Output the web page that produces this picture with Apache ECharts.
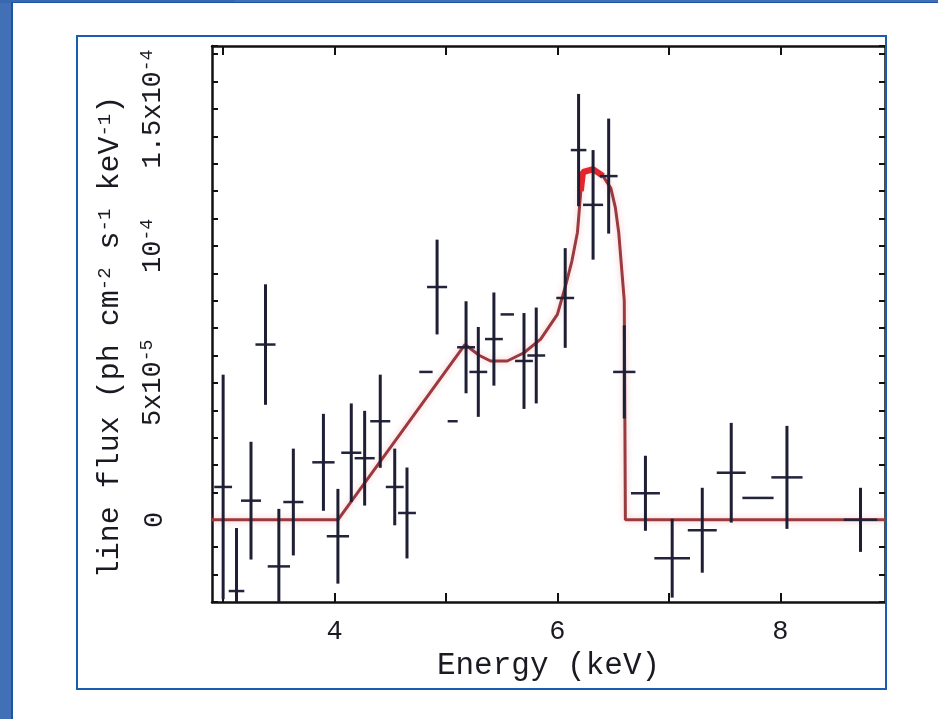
<!DOCTYPE html>
<html>
<head>
<meta charset="utf-8">
<script src="https://cdn.jsdelivr.net/npm/echarts@6/dist/echarts.min.js"></script>
<style>
  html, body { margin: 0; padding: 0; background: #fff; }
  .page { position: relative; width: 938px; height: 719px; overflow: hidden; background: #fff; }
  .strip-left { position: absolute; left: 0; top: 0; width: 11px; height: 719px; background: #4270b6; }
  .strip-top { position: absolute; left: 0; top: 0; width: 938px; height: 2px; background: #4270b6; }
  .strip-top-dark { position: absolute; left: 0; top: 0; width: 235px; height: 3px; background: #3a68b0; }
  .line-left { position: absolute; left: 11px; top: 2px; width: 2px; height: 717px; background: #1d55a6; }
  .line-top { position: absolute; left: 11px; top: 2px; width: 927px; height: 1px; background: #1d55a6; }
  .box { position: absolute; left: 76px; top: 35px; width: 807px; height: 651px; border: 2px solid #1a5cb0; pointer-events: none; z-index: 2; }
  #chart { position: absolute; left: 0; top: 0; width: 938px; height: 719px; z-index: 1; }
</style>
</head>
<body>
<div class="page">
  <div class="strip-left"></div>
  <div class="strip-top"></div>
  <div class="strip-top-dark"></div>
  <div class="line-left"></div>
  <div class="line-top"></div>
  <div id="chart"></div>
  <div class="box"></div>
</div>
<script>
// 数据点：能量 (keV)、线流量 (单位 1e-5 ph cm^-2 s^-1 keV^-1) 及误差
const energy = [3.0, 3.12, 3.25, 3.38, 3.5, 3.63, 3.9, 4.03, 4.15, 4.27, 4.41, 4.54, 4.65, 4.82, 4.92, 5.06, 5.18, 5.29, 5.43, 5.55, 5.7, 5.81, 6.07, 6.19, 6.32, 6.46, 6.6, 6.79, 7.03, 7.3, 7.56, 7.8, 8.06, 8.72]
const flux = [1.2, -2.6, 0.7, 6.4, -1.7, 0.65, 2.1, -0.6, 2.45, 2.25, 3.6, 1.2, 0.25, 5.4, 8.5, 3.6, 6.3, 5.4, 6.6, 7.5, 5.8, 6.0, 8.1, 13.5, 11.5, 12.55, 5.4, 0.97, -1.4, -0.38, 1.72, 0.8, 1.55, 0]
const fluxErr = [4.1, 2.3, 2.15, 2.2, 2.1, 1.95, 1.77, 1.73, 1.8, 1.73, 1.7, 1.4, 1.66, 0, 1.73, 0, 1.68, 1.64, 1.7, 0, 1.75, 1.75, 1.82, 2.05, 2.0, 2.1, 1.7, 1.37, 1.44, 1.55, 1.82, 0, 1.88, 1.17]
const energyErr = [0.08, 0.07, 0.09, 0.09, 0.1, 0.09, 0.1, 0.1, 0.09, 0.09, 0.09, 0.08, 0.08, 0.06, 0.09, 0.045, 0.08, 0.08, 0.08, 0.06, 0.08, 0.08, 0.08, 0.07, 0.09, 0.08, 0.1, 0.13, 0.16, 0.13, 0.13, 0.14, 0.14, 0.15]

// 模型曲线
const modelEnergy = [2.9, 4.03, 5.17, 5.3, 5.4, 5.55, 5.7, 5.85, 6.0, 6.07, 6.13, 6.18, 6.21, 6.23, 6.32, 6.41, 6.48, 6.52, 6.55, 6.6, 6.61, 8.94]
const modelFlux = [0, 0, 6.4, 6.0, 5.8, 5.8, 6.1, 6.6, 7.5, 8.5, 9.45, 10.5, 12.0, 12.7, 12.8, 12.55, 12.1, 11.4, 10.5, 8.0, 0, 0]

// 刻度标签
const xLabelValues = [4, 6, 8]
const xTickValues = [3, 4, 5, 6, 7, 8]
const yLabels = { 0: '{n|0}', 5: '{n|5x10}{s|-5}', 10: '{n|10}{s|-4}', 15: '{n|1.5x10}{s|-4}' }

const FONT = '"Liberation Mono", "DejaVu Sans Mono", monospace'
const INK = '#1a1a22'

const chart = echarts.init(document.getElementById('chart'), null, { renderer: 'canvas' })

const pointData = energy.map((e, i) => [e, flux[i], fluxErr[i], energyErr[i]])
const modelData = modelEnergy.map((e, i) => [e, modelFlux[i]])
const peakData = modelData.filter((d) => d[0] >= 6.19 && d[0] <= 6.46)

const richLabel = {
  n: { fontFamily: FONT, fontSize: 27, color: INK },
  s: { fontFamily: FONT, fontSize: 18, color: INK, verticalAlign: 'top', padding: [0, 0, 12, 0] }
}

const xBase = {
  type: 'value',
  min: 2.9,
  max: 8.94,
  splitLine: { show: false },
  axisLine: { show: true, onZero: false, lineStyle: { color: '#111', width: 2.5 } },
  axisTick: { show: true, inside: true, length: 9, customValues: xTickValues, lineStyle: { color: '#111', width: 2 } }
}

const yBase = {
  type: 'value',
  min: -3,
  max: 17.3,
  interval: 1,
  splitLine: { show: false },
  axisLine: { show: true, onZero: false, lineStyle: { color: '#111', width: 2.5 } },
  axisTick: { show: true, inside: true, length: 6, lineStyle: { color: '#111', width: 2 } }
}

const option = {
  animation: false,
  backgroundColor: 'transparent',
  grid: { left: 212, top: 46, width: 673, height: 556 },
  xAxis: [
    {
      ...xBase,
      position: 'bottom',
      axisLabel: { customValues: xLabelValues, margin: 16, fontFamily: FONT, fontSize: 27, color: INK },
      name: 'Energy (keV)',
      nameLocation: 'middle',
      nameGap: 44,
      nameTextStyle: { fontFamily: FONT, fontSize: 31, color: INK }
    },
    {
      ...xBase,
      position: 'top',
      axisLabel: { show: false }
    }
  ],
  yAxis: [
    {
      ...yBase,
      position: 'left',
      axisLabel: {
        rotate: 90,
        margin: 44,
        formatter: (v) => yLabels[Math.round(v)] || '',
        rich: richLabel
      },
      name: '{n|line flux (ph cm}{s|-2}{n| s}{s|-1}{n| keV}{s|-1}{n|)}',
      nameLocation: 'middle',
      nameRotate: 90,
      nameGap: 86,
      nameTextStyle: {
        padding: [0, 26, 0, 0],
        rich: {
          n: { fontFamily: FONT, fontSize: 30, color: INK },
          s: { fontFamily: FONT, fontSize: 19, color: INK, verticalAlign: 'top', padding: [0, 0, 12, 0] }
        }
      }
    },
    {
      ...yBase,
      position: 'right',
      axisLabel: { show: false }
    }
  ],
  series: [
    {
      name: 'model',
      type: 'line',
      data: modelData,
      showSymbol: false,
      symbol: 'none',
      clip: true,
      lineStyle: { color: '#9b3a3e', width: 3, shadowColor: 'rgba(230,120,130,0.45)', shadowBlur: 6 },
      z: 2
    },
    {
      name: 'peak',
      type: 'line',
      data: peakData,
      showSymbol: false,
      symbol: 'none',
      lineStyle: { color: '#e3262c', width: 6 },
      z: 3
    },
    {
      name: 'data',
      type: 'custom',
      clip: true,
      data: pointData,
      renderItem: (params, api) => {
        const x = api.value(0)
        const y = api.value(1)
        const dy = api.value(2)
        const dx = api.value(3)
        const top = api.coord([x, y + dy])
        const bottom = api.coord([x, y - dy])
        const left = api.coord([x - dx, y])
        const right = api.coord([x + dx, y])
        const children = [
          {
            type: 'line',
            shape: { x1: left[0], y1: left[1], x2: right[0], y2: right[1] },
            style: { stroke: '#23233c', lineWidth: 2.5 }
          }
        ]
        if (dy > 0) {
          children.push({
            type: 'line',
            shape: { x1: top[0], y1: top[1], x2: bottom[0], y2: bottom[1] },
            style: { stroke: '#1e1e34', lineWidth: 3 }
          })
        }
        return { type: 'group', children }
      },
      z: 4
    }
  ]
}

chart.setOption(option)
</script>
</body>
</html>
